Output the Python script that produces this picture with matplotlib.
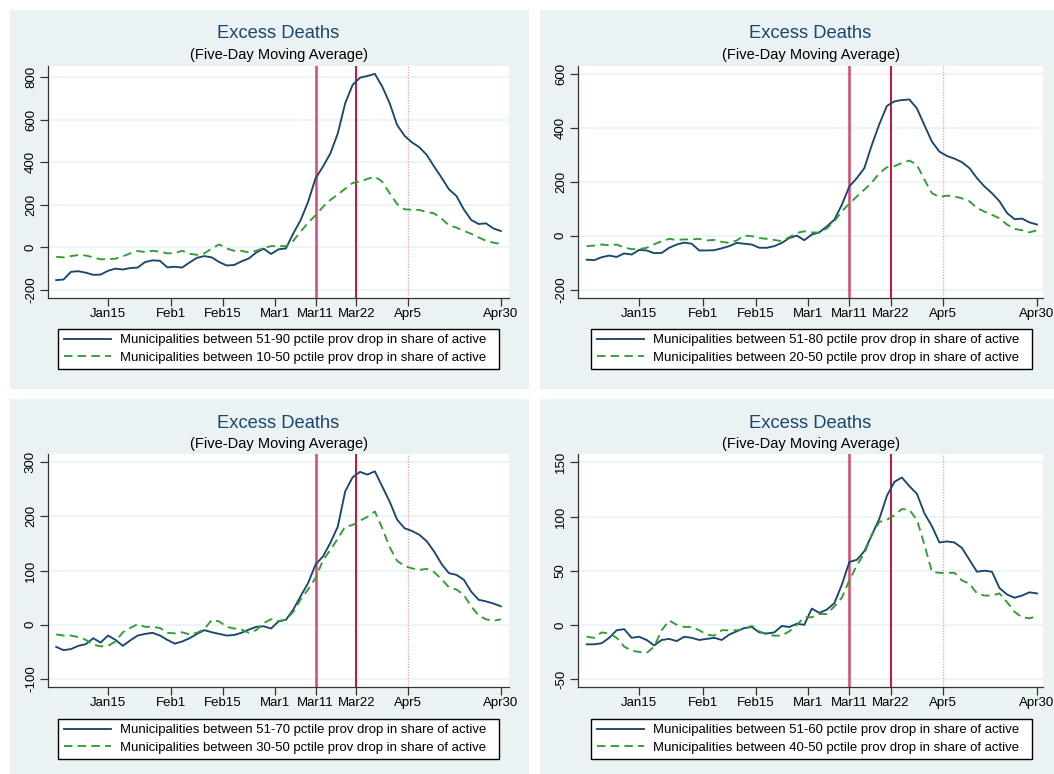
import numpy as np
import pandas as pd
import matplotlib
matplotlib.use("Agg")
import matplotlib.pyplot as plt
from matplotlib.patches import Rectangle

plt.rcParams['font.family'] = ['Liberation Sans', 'DejaVu Sans']
plt.rcParams['axes.unicode_minus'] = False

# ---------------- data (every second day, Jan 1 - Apr 30, 2020) ----------------
dates = pd.date_range("2020-01-01", "2020-04-30", freq="2D")

p1_high = [-154, -151, -115, -112, -119, -129, -128, -110, -100, -104, -97, -95, -69, -61, -63, -94,
           -91, -95, -71, -49, -41, -47, -69, -85, -83, -66, -52, -24, -6, -31, -9, -5, 66, 129, 215,
           325, 380, 442, 536, 678, 764, 798, 806, 816, 756, 678, 576, 525, 494, 471, 435, 380, 328,
           273, 242, 179, 129, 110, 113, 89, 77]
p1_low = [-44, -47, -41, -36, -38, -47, -56, -56, -53, -42, -28, -17, -22, -16, -20, -28, -27, -16,
          -30, -35, -28, -5, 14, -5, -16, -16, -24, -16, -3, 6, 6, 6, 31, 75, 116, 151, 191, 223, 249,
          276, 303, 309, 322, 333, 309, 254, 204, 179, 177, 176, 166, 160, 135, 104, 93, 78, 64, 47,
          31, 22, 16]

p2_high = [-89, -91, -80, -74, -79, -66, -70, -53, -55, -65, -64, -45, -33, -26, -30, -55, -55, -54,
           -47, -39, -27, -30, -33, -45, -45, -39, -27, -9, 0, -17, 4, 12, 34, 59, 114, 182, 213, 250,
           336, 413, 480, 497, 502, 504, 471, 409, 348, 311, 295, 285, 272, 250, 213, 182, 157, 127,
           84, 61, 63, 49, 41]
p2_low = [-39, -37, -33, -36, -33, -44, -50, -50, -45, -32, -21, -12, -16, -14, -14, -12, -18, -16,
          -23, -27, -18, 0, -2, -9, -12, -16, -21, -6, 10, 16, 12, 11, 27, 53, 90, 118, 145, 170, 197,
          231, 253, 257, 269, 278, 262, 207, 157, 143, 148, 145, 138, 127, 102, 89, 77, 64, 41, 25, 20,
          12, 20]

p3_high = [-41, -47, -45, -39, -36, -25, -33, -20, -28, -39, -29, -20, -17, -15, -20, -28, -35, -31,
           -25, -17, -10, -14, -17, -20, -19, -15, -9, -4, -3, -7, 6, 9, 28, 53, 77, 111, 126, 151,
           181, 246, 272, 282, 277, 283, 255, 227, 194, 178, 173, 166, 154, 135, 112, 95, 92, 83, 61,
           46, 43, 39, 34]
p3_low = [-18, -20, -20, -23, -28, -37, -40, -39, -31, -14, -6, 1, -4, -4, -6, -15, -16, -14, -18,
          -15, -8, 9, 6, -4, -7, -9, -15, -10, 3, 10, 7, 9, 24, 47, 65, 86, 119, 138, 159, 181, 184,
          192, 199, 209, 178, 143, 118, 108, 104, 101, 103, 97, 84, 69, 65, 55, 34, 17, 10, 7, 10]

p4_high = [-18, -18, -17, -12, -5, -4, -12, -11, -14, -19, -14, -13, -15, -11, -12, -14, -13, -12,
           -14, -9, -6, -3, -2, -7, -8, -7, -1, -2, 1, 0, 15, 11, 14, 20, 37, 58, 60, 68, 83, 98, 119,
           132, 136, 128, 121, 103, 91, 76, 77, 76, 71, 60, 49, 50, 49, 34, 28, 25, 27, 30, 29]
p4_low = [-11, -12, -7, -8, -12, -20, -24, -25, -26, -20, -5, 4, 0, -2, -2, -5, -9, -10, -5, -5, -5,
          -4, -1, -6, -9, -10, -10, -6, 0, 7, 7, 10, 10, 17, 25, 41, 55, 66, 83, 95, 97, 101, 107, 106,
          97, 74, 49, 48, 48, 48, 41, 38, 29, 27, 27, 29, 21, 12, 7, 6, 8]

high_labels = ["51-90", "51-80", "51-70", "51-60"]
low_labels = ["10-50", "20-50", "30-50", "40-50"]
y_ticks = [[-200, 0, 200, 400, 600, 800], [-200, 0, 200, 400, 600],
           [-100, 0, 100, 200, 300], [-50, 0, 50, 100, 150]]
y_limits = [(-238, 853), (-231, 628), (-115, 315), (-57.4, 157.7)]

tick_dates = ["2020-01-15", "2020-02-01", "2020-02-15", "2020-02-29", "2020-03-11",
              "2020-03-22", "2020-04-05", "2020-04-30"]
tick_labels = ["Jan15", "Feb1", "Feb15", "Mar1", "Mar11", "Mar22", "Apr5", "Apr30"]
event_dates = ["2020-03-11", "2020-03-22", "2020-04-05"]

# ---------------- figure ----------------
W, H = 1054, 774
fig = plt.figure(figsize=(W / 100, H / 100), dpi=100)
fig.patch.set_facecolor("white")

BG = "#EAF2F3"
NAVY = "#1a476f"
GREEN = "#2f9e2f"

def fx(px):
    return px / W

def fy(py):
    return 1 - py / H

# panel backgrounds (pixels: x0, y0, x1, y1)
panels_bg = [(10, 10, 529, 389), (540, 10, 1054, 389), (10, 399, 529, 774), (540, 399, 1054, 774)]
for (x0, y0, x1, y1) in panels_bg:
    fig.patches.append(Rectangle((fx(x0), fy(y1)), fx(x1 - x0), (y1 - y0) / H,
                                 transform=fig.transFigure, facecolor=BG, edgecolor="none", zorder=-5))

# plot areas (pixels: left, right, top, bottom)
plot_px = [(48, 509, 66, 298), (578, 1043, 66, 298), (48, 509, 454, 687), (578, 1043, 454, 687)]
x_pads = [(2.2, 2.2), (2.3, 1.6), (2.2, 2.2), (2.3, 1.6)]
legend_px = [(278.5, 349), (811.5, 349), (278.5, 739), (811.5, 739)]
title_py = [(34, 55), (34, 55), (423, 444), (423, 444)]

series = [(p1_high, p1_low), (p2_high, p2_low), (p3_high, p3_low), (p4_high, p4_low)]
start = dates[0]
xdays = np.asarray((dates - start).days, dtype=float)
tick_pos = [(pd.Timestamp(d) - start).days for d in tick_dates]
ev_pos = [(pd.Timestamp(d) - start).days for d in event_dates]

for i in range(4):
    l, r, t, b = plot_px[i]
    ax = fig.add_axes([fx(l), fy(b), fx(r - l), (b - t) / H])
    ax.set_zorder(1)
    ax.set_facecolor("white")
    for yt in y_ticks[i]:
        ax.axhline(yt, color=BG, lw=1.2, zorder=1)
    hi, lo = series[i]
    ax.plot(xdays, hi, color=NAVY, lw=1.35, zorder=3,
            label=f"Municipalities between {high_labels[i]} pctile prov drop in share of active  ")
    ax.plot(xdays, lo, color=GREEN, lw=1.35, dashes=(4.5, 2.8), zorder=3,
            label=f"Municipalities between {low_labels[i]} pctile prov drop in share of active  ")
    ax.axvline(ev_pos[0], color="#d9466f", lw=1.8, zorder=2)
    ax.axvline(ev_pos[1], color="#cc1036", lw=1.4, zorder=2)
    ax.axvline(ev_pos[2], color="#f3a6c0", lw=1.0, ls=(0, (1, 1)), zorder=2)

    ax.set_xlim(xdays[0] - x_pads[i][0], xdays[-1] + x_pads[i][1])
    ax.set_ylim(*y_limits[i])
    ax.set_xticks(tick_pos)
    ax.set_xticklabels(tick_labels)
    ax.set_yticks(y_ticks[i])
    ax.set_yticklabels([str(v) for v in y_ticks[i]], rotation=90, va="center")
    ax.tick_params(axis="both", labelsize=9.5, length=5.5, width=0.9, color="#333333",
                   labelcolor="black")
    ax.tick_params(axis="x", pad=2)
    ax.tick_params(axis="y", pad=2.5)
    for s in ["top", "right"]:
        ax.spines[s].set_visible(False)
    for s in ["left", "bottom"]:
        ax.spines[s].set_color("#333333")
        ax.spines[s].set_linewidth(0.9)

    cx = (l + r) / 2
    fig.text(fx(cx), fy(title_py[i][0]), "Excess Deaths", ha="center", va="center",
             fontsize=13.2, color=NAVY)
    fig.text(fx(cx), fy(title_py[i][1]), "(Five-Day Moving Average)", ha="center", va="center",
             fontsize=10.5, color="black")

    lx, ly = legend_px[i]
    leg = ax.legend(loc="center", bbox_to_anchor=(fx(lx), fy(ly)), bbox_transform=fig.transFigure,
                    fontsize=9.45, frameon=True, fancybox=False, handlelength=3.6,
                    handletextpad=0.65, labelspacing=0.4, borderpad=0.42, borderaxespad=0)
    leg.get_frame().set_edgecolor("black")
    leg.get_frame().set_linewidth(1.0)
    leg.get_frame().set_facecolor("white")
    leg.get_frame().set_alpha(1)

fig.savefig("out.png", dpi=100, facecolor="white")
